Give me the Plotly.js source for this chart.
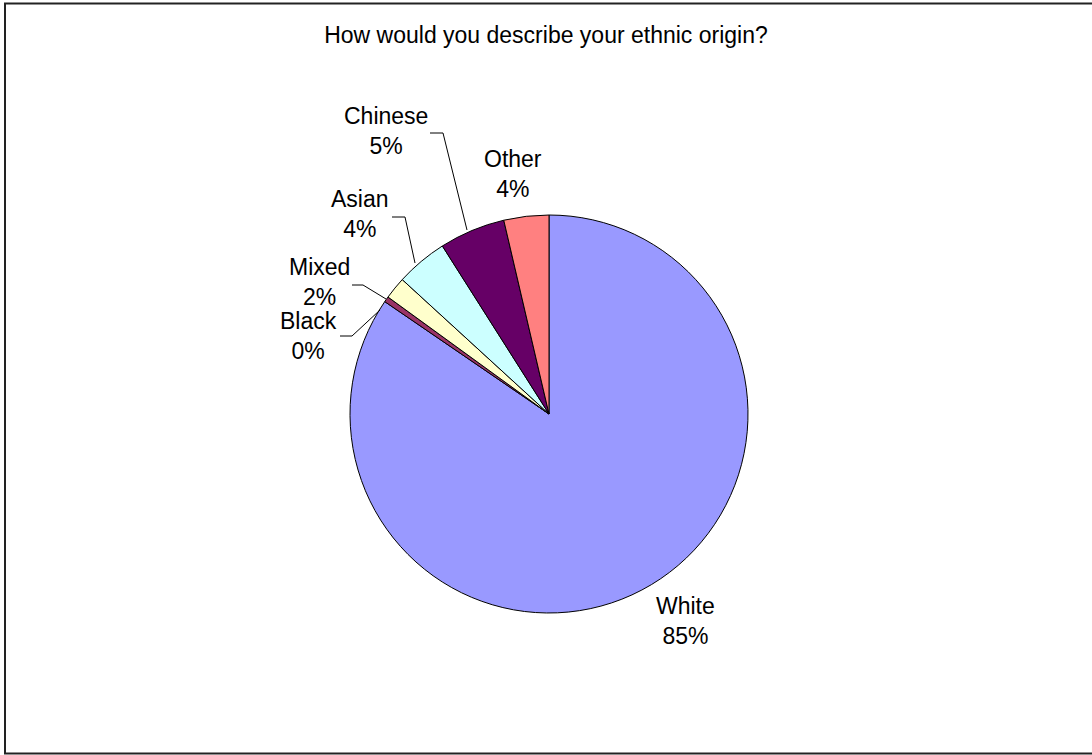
<!DOCTYPE html>
<html>
<head>
<meta charset="utf-8">
<script src="https://cdn.plot.ly/plotly-3.0.1.min.js"></script>
<style>
  html, body { margin: 0; padding: 0; background: #ffffff; }
  #chart { width: 1092px; height: 755px; }
</style>
</head>
<body>
<div id="chart"></div>
<script>
// ---- data ----
const categories = ['White', 'Black', 'Mixed', 'Asian', 'Chinese', 'Other'];
const shares = [84.55, 0.45, 1.8, 4.2, 5.35, 3.65];
const sliceColors = ['#9999FF', '#993366', '#FFFFCC', '#CCFFFF', '#660066', '#FF8080'];
const chartTitle = 'How would you describe your ethnic origin?';

// ---- layout helpers (pixel placement of the labels, outside the data) ----
const W = 1092, H = 755;
const M = { l: 350, r: 344, t: 215, b: 142 };
const PW = W - M.l - M.r, PH = H - M.t - M.b;
const px = x => (x - M.l) / PW;
const py = y => (H - M.b - y) / PH;

const labelPos = {
  White:   [685, 621],
  Black:   [308, 336],
  Mixed:   [319, 282],
  Asian:   [360, 214],
  Chinese: [386, 131],
  Other:   [513, 174]
};
const leaderPaths = {
  Chinese: [[430, 133], [443, 133], [467, 230]],
  Asian:   [[392, 217], [405, 217], [415, 263]],
  Mixed:   [[352, 285], [363, 285], [386, 299]],
  Black:   [[340, 336], [352, 336], [380, 310]]
};

const total = shares.reduce((a, b) => a + b, 0);
const FONT = 'Liberation Sans, Arial, sans-serif';
const FS = 23;

const annotations = categories.map((c, i) => ({
  xref: 'paper', yref: 'paper',
  x: px(labelPos[c][0]), y: py(labelPos[c][1]),
  xanchor: 'center', yanchor: 'middle',
  text: c + '<br>' + Math.round(shares[i] / total * 100) + '%',
  showarrow: false,
  borderpad: 0,
  font: { family: FONT, size: FS, color: '#000000' }
}));

const shapes = Object.keys(leaderPaths).map(k => ({
  type: 'path', xref: 'paper', yref: 'paper',
  path: leaderPaths[k].map((p, j) => (j ? 'L' : 'M') + px(p[0]) + ',' + py(p[1])).join(' '),
  line: { color: '#000000', width: 1 }
}));
// outer chart border
shapes.push({
  type: 'rect', xref: 'paper', yref: 'paper',
  x0: px(5), y0: py(3.5), x1: px(1100), y1: py(753.5),
  line: { color: '#222222', width: 2 }, fillcolor: 'rgba(0,0,0,0)'
});

const trace = {
  type: 'pie',
  labels: categories,
  values: shares,
  sort: false,
  direction: 'clockwise',
  rotation: 0,
  marker: { colors: sliceColors, line: { color: '#000000', width: 1 } },
  textinfo: 'none',
  hoverinfo: 'none',
  showlegend: false
};

const layout = {
  width: W, height: H,
  margin: M,
  paper_bgcolor: '#ffffff',
  plot_bgcolor: '#ffffff',
  showlegend: false,
  title: {
    text: chartTitle,
    font: { family: FONT, size: FS, color: '#000000' },
    x: 0.5, xref: 'container', xanchor: 'center',
    y: 1 - 35 / H, yref: 'container', yanchor: 'middle'
  },
  annotations: annotations,
  shapes: shapes
};

Plotly.newPlot('chart', [trace], layout, { displayModeBar: false, staticPlot: true });
</script>
</body>
</html>
